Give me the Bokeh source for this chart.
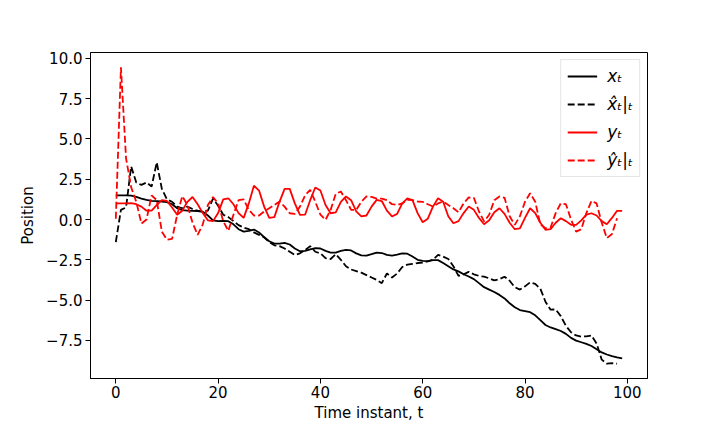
from bokeh.plotting import figure
from bokeh.models import Range1d, FixedTicker, Legend, LegendItem
from bokeh.embed import file_html
from bokeh.resources import INLINE

# ---- data ----
t_true = list(range(100))
t_est = list(range(99))

x_true = [1.50, 1.50, 1.50, 1.48, 1.40, 1.30, 1.22, 1.16, 1.14, 1.12,
          1.08, 0.95, 0.70, 0.58, 0.55, 0.54, 0.53, 0.48, 0.25, -0.05,
          -0.10, -0.08, -0.10, -0.30, -0.60, -0.75, -0.70, -0.62, -0.80, -1.10,
          -1.35, -1.50, -1.50, -1.45, -1.55, -1.80, -1.97, -1.95, -1.85, -1.78,
          -1.80, -1.95, -2.05, -2.05, -1.95, -1.88, -1.92, -2.10, -2.22, -2.24,
          -2.15, -2.05, -2.08, -2.20, -2.24, -2.18, -2.10, -2.12, -2.30, -2.50,
          -2.57, -2.58, -2.52, -2.52, -2.70, -2.90, -3.10, -3.22, -3.40, -3.54,
          -3.70, -3.95, -4.20, -4.35, -4.50, -4.68, -4.90, -5.20, -5.45, -5.62,
          -5.68, -5.75, -5.95, -6.25, -6.55, -6.70, -6.80, -6.92, -7.10, -7.35,
          -7.52, -7.62, -7.72, -7.85, -8.05, -8.25, -8.38, -8.48, -8.56, -8.62]

x_est = [-1.40, 0.60, 0.75, 3.30, 2.30, 2.15, 2.30, 2.05, 3.55, 1.90,
         1.25, 1.10, 0.80, 0.70, 0.80, 0.65, 0.55, 0.50, 0.55, 1.30,
         0.85, 0.30, 0.15, -0.10, -0.35, -0.50, -0.60, -0.80, -0.95, -1.10,
         -1.40, -1.60, -1.65, -1.80, -2.00, -2.20, -2.10, -1.90, -1.65, -2.00,
         -2.10, -2.40, -2.45, -2.15, -2.50, -2.90, -3.10, -3.20, -3.30, -3.45,
         -3.60, -3.75, -3.95, -3.35, -3.60, -3.35, -2.95, -2.80, -2.75, -2.70,
         -2.68, -2.60, -2.50, -2.20, -2.30, -2.45, -2.90, -3.50, -3.40, -3.25,
         -3.40, -3.50, -3.55, -3.65, -3.78, -3.70, -3.55, -3.80, -4.20, -4.35,
         -4.15, -3.90, -4.00, -4.30, -5.10, -5.60, -5.58, -6.00, -6.60, -7.00,
         -7.20, -7.27, -7.25, -7.20, -7.70, -8.70, -8.95, -8.92, -8.95]

y_true = [1.00, 1.00, 1.00, 1.02, 0.95, 0.80, 0.55, 0.55, 0.90, 1.20,
          1.15, 0.75, 0.30, 0.55, 1.10, 1.40, 0.95, 0.40, -0.05, -0.10,
          0.40, 1.25, 1.32, 0.95, 0.40, 0.10, 1.00, 2.10, 1.80, 0.80,
          0.10, 0.15, 1.10, 1.90, 1.90, 1.00, 0.29, 0.30, 1.20, 1.99,
          1.80, 0.90, 0.39, 0.45, 1.10, 1.43, 1.20, 0.50, 0.19, 0.25,
          0.80, 1.22, 1.15, 0.55, 0.19, 0.35, 1.00, 1.32, 1.20, 0.40,
          -0.17, 0.05, 0.80, 1.32, 1.10, 0.20, -0.23, -0.10, 0.40, 0.81,
          0.60, 0.10, -0.29, -0.05, 0.45, 0.70, 0.35, -0.20, -0.60, -0.55,
          0.10, 0.70, 0.40, -0.20, -0.64, -0.60, -0.20, 0.08, -0.10, -0.33,
          -0.33, -0.05, 0.30, 0.39, 0.25, -0.10, -0.29, 0.10, 0.54, 0.54]

y_est = [0.05, 9.45, 3.80, 2.00, 1.10, -0.25, 0.00, 1.50, 1.20, -0.75,
         -1.25, -1.20, 0.30, 1.45, 0.90, -0.20, -0.95, -0.30, 0.90, 1.40,
         1.00, -0.10, -0.70, 0.30, 1.20, 1.25, 0.60, 0.25, 0.25, 0.50,
         0.70, 0.90, 1.12, 0.80, 0.39, 0.35, 0.80, 1.50, 1.84, 1.10,
         0.30, -0.02, 0.60, 1.60, 1.74, 1.20, 0.60, 0.60, 1.10, 1.43,
         1.40, 1.30, 1.30, 1.20, 0.95, 0.91, 1.00, 1.22, 1.20, 1.12,
         1.10, 0.95, 0.81, 1.00, 1.12, 0.90, 0.70, 0.45, 1.00, 1.37,
         1.35, 0.50, -0.12, 0.30, 1.20, 1.43, 1.35, 0.20, -0.33, 0.20,
         1.10, 1.63, 1.10, -0.30, -0.54, -0.50, 0.40, 1.01, 0.95, 0.00,
         -0.75, -0.60, 0.40, 1.16, 1.00, -0.20, -1.16, -0.90, 0.08]

x_ticks = [0, 20, 40, 60, 80, 100]
y_ticks = [-7.5, -5.0, -2.5, 0.0, 2.5, 5.0, 7.5, 10.0]
y_tick_labels = ["\u22127.5", "\u22125.0", "\u22122.5", "0.0", "2.5", "5.0", "7.5", "10.0"]

labels = ["x\u209c", "x\u0302\u209c|\u209c", "y\u209c", "y\u0302\u209c|\u209c"]

FONT = "DejaVu Sans"
FS = "15px"

p = figure(frame_width=557, frame_height=326,
           x_range=Range1d(-4.95, 103.95), y_range=Range1d(-9.87, 10.37),
           output_backend="svg", toolbar_location=None,
           min_border_left=90, min_border_right=57,
           min_border_top=52, min_border_bottom=40)

p.xgrid.visible = False
p.ygrid.visible = False
p.outline_line_color = "black"
p.outline_line_width = 1
p.outline_line_alpha = 1

r1 = p.line(t_true, x_true, line_color="black", line_width=1.8)
r2 = p.line(t_est, x_est, line_color="black", line_width=1.8, line_dash="7 3")
r3 = p.line(t_true, y_true, line_color="red", line_width=1.8)
r4 = p.line(t_est, y_est, line_color="red", line_width=1.8, line_dash="7 3")

for ax in (p.xaxis[0], p.yaxis[0]):
    ax.major_tick_out = 5
    ax.major_tick_in = 0
    ax.minor_tick_out = 0
    ax.minor_tick_in = 0
    ax.major_label_text_font = FONT
    ax.major_label_text_font_size = FS
    ax.major_label_text_color = "black"
    ax.axis_label_text_font = FONT
    ax.axis_label_text_font_size = FS
    ax.axis_label_text_font_style = "normal"
    ax.axis_label_text_color = "black"
    ax.axis_line_color = "black"
    ax.major_tick_line_color = "black"

p.xaxis[0].ticker = FixedTicker(ticks=x_ticks)
p.yaxis[0].ticker = FixedTicker(ticks=y_ticks)
p.yaxis[0].major_label_overrides = {v: s for v, s in zip(y_ticks, y_tick_labels)}
p.xaxis[0].axis_label = "Time instant, t"
p.yaxis[0].axis_label = "Position"
p.xaxis[0].major_label_standoff = 2
p.yaxis[0].major_label_standoff = 3
p.xaxis[0].axis_label_standoff = 3
p.yaxis[0].axis_label_standoff = 6

legend = Legend(items=[LegendItem(label=labels[0], renderers=[r1]),
                       LegendItem(label=labels[1], renderers=[r2]),
                       LegendItem(label=labels[2], renderers=[r3]),
                       LegendItem(label=labels[3], renderers=[r4])],
                location="top_right", margin=7,
                label_text_font=FONT, label_text_font_style="italic",
                label_text_font_size="17px", label_text_color="black",
                glyph_width=30, glyph_height=20, label_height=20,
                label_standoff=10, spacing=8, padding=6,
                border_line_color="#cccccc", border_line_width=1,
                background_fill_alpha=0.8)
p.add_layout(legend)

open("out.html", "w").write(file_html(p, INLINE))
